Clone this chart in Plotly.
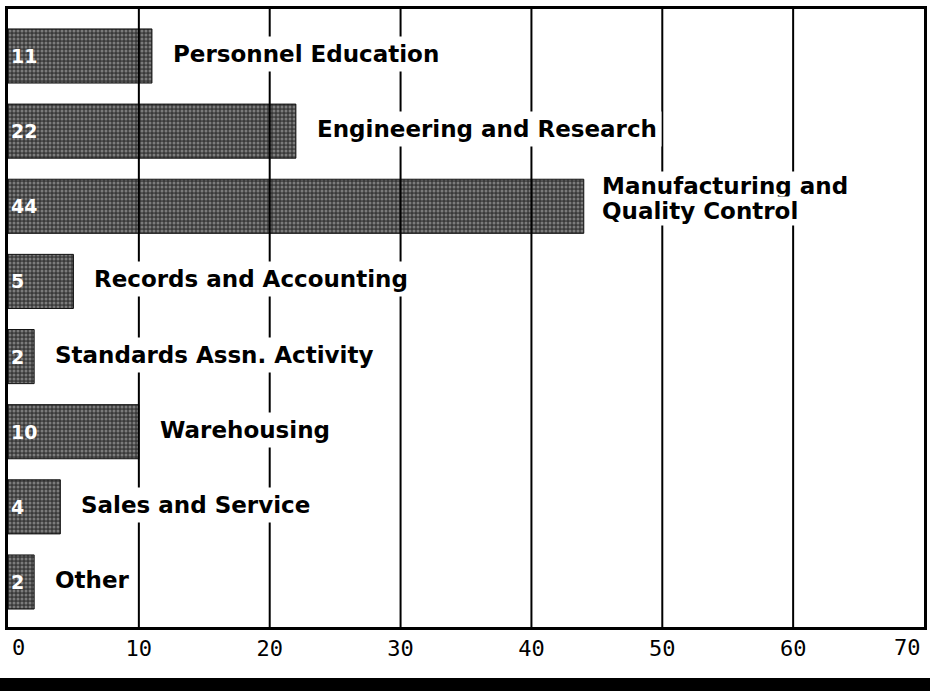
import plotly.graph_objects as go

categories = [
    "Personnel Education",
    "Engineering and Research",
    "Manufacturing and\nQuality Control",
    "Records and Accounting",
    "Standards Assn. Activity",
    "Warehousing",
    "Sales and Service",
    "Other",
]
values = [11, 22, 44, 5, 2, 10, 4, 2]
x_ticks = [0, 10, 20, 30, 40, 50, 60, 70]
x_tick_labels = [str(t) for t in x_ticks]

positions = list(range(len(categories)))

fig = go.Figure()
fig.add_trace(go.Bar(
    x=values,
    y=positions,
    orientation="h",
    width=0.72,
    marker=dict(
        color="#3a3a3a",
        line=dict(color="#111111", width=1),
        pattern=dict(shape=".", fgcolor="#bdbdbd", size=4, solidity=0.45, fillmode="overlay"),
    ),
    text=[str(v) for v in values],
    textposition="inside",
    insidetextanchor="start",
    textangle=0,
    textfont=dict(family="DejaVu Sans", size=19, color="white", weight="bold"),
    hoverinfo="skip",
    showlegend=False,
))

# gridlines drawn above the bars (as in the printed original)
shapes = []
for t in x_ticks[1:-1]:
    shapes.append(dict(type="line", xref="x", yref="paper", x0=t, x1=t, y0=0, y1=1,
                       line=dict(color="black", width=2), layer="above"))
# black strip at the bottom of the page
shapes.append(dict(type="rect", xref="paper", yref="paper", x0=-0.02, x1=1.02,
                   y0=-0.115, y1=-0.0825, fillcolor="black", line=dict(width=0), layer="above"))

annotations = []
label_font = dict(family="DejaVu Sans", size=23, color="black", weight="bold")
for pos, name, val in zip(positions, categories, values):
    lines = name.split("\n")
    n = len(lines)
    base = 2 if n == 1 else 8
    for i, line in enumerate(lines):
        annotations.append(dict(
            x=val, y=pos, xref="x", yref="y",
            text=line, showarrow=False,
            xanchor="left", yanchor="middle",
            xshift=16, yshift=base - (i - (n - 1) / 2) * 25,
            font=label_font, bgcolor="white", borderpad=4 if n == 1 else 1,
            align="left",
        ))

# end tick labels (first and last) set inside the frame, as in the original
tick_font = dict(family="DejaVu Sans Mono", size=22, color="black")
annotations.append(dict(x=x_ticks[0], y=0, xref="x", yref="paper", text=x_tick_labels[0],
                        showarrow=False, xanchor="left", yanchor="middle",
                        xshift=3, yshift=-20, font=tick_font, borderpad=0))
annotations.append(dict(x=x_ticks[-1], y=0, xref="x", yref="paper", text=x_tick_labels[-1],
                        showarrow=False, xanchor="right", yanchor="middle",
                        xshift=-2, yshift=-20, font=tick_font, borderpad=0))
axis_tick_text = [""] + x_tick_labels[1:-1] + [""]

fig.update_layout(
    width=930, height=691,
    margin=dict(l=8, r=6, t=9, b=64, autoexpand=False),
    paper_bgcolor="white", plot_bgcolor="white",
    bargap=0.28,
    shapes=shapes,
    annotations=annotations,
    xaxis=dict(
        range=[0, 70], tickvals=x_ticks, ticktext=axis_tick_text,
        showgrid=False, zeroline=False, automargin=False,
        showline=True, linecolor="black", linewidth=3, mirror=True,
        ticks="", ticklabelstandoff=0,
        tickfont=tick_font,
        fixedrange=True,
    ),
    yaxis=dict(
        range=[7.599, -0.6255], showticklabels=False,
        showgrid=False, zeroline=False, automargin=False,
        showline=True, linecolor="black", linewidth=3, mirror=True,
        ticks="", fixedrange=True,
    ),
)

fig.write_html(
    "out.html",
    config={"displayModeBar": False},
    post_script="document.body.style.margin='0';document.body.style.overflow='hidden';",
)
